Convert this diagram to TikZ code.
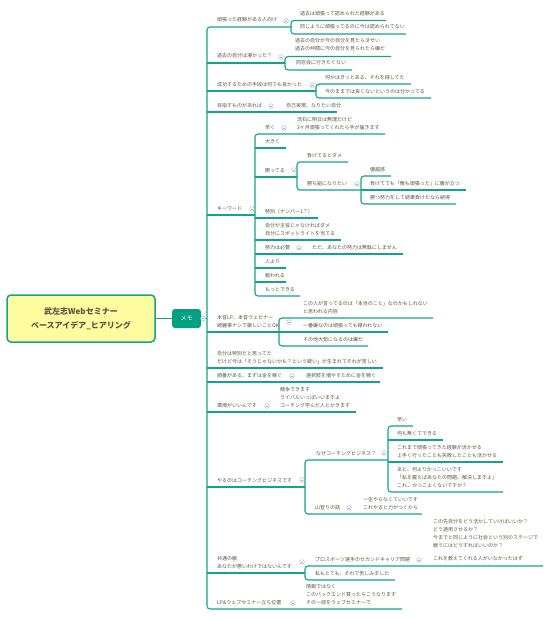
\documentclass[tikz,border=0pt]{standalone}
\usepackage{fontspec}
\setmainfont{Noto Sans CJK JP}
\definecolor{ln}{RGB}{20,163,133}
\definecolor{txt}{RGB}{88,86,62}
\definecolor{rootfill}{RGB}{255,252,160}
\definecolor{memofill}{RGB}{0,160,128}
\definecolor{iconc}{RGB}{160,178,210}
\begin{document}
\begin{tikzpicture}[x=1pt,y=-1pt,
  t/.style={anchor=base west, inner sep=0pt, font=\fontsize{5}{8}\selectfont, text=txt, align=left},
  br/.style={draw=ln, line width=1.1pt, rounded corners=3pt},
  colicon/.pic={\draw[iconc, line width=0.4pt, fill=white] (0,0) circle (2.3);
                \draw[iconc, line width=0.5pt] (-1.2,0) -- (1.2,0);}]
\useasboundingbox (0,0) rectangle (552,618);

% root and memo
\node[draw=ln, line width=1.5pt, fill=rootfill, rounded corners=4pt, minimum width=148pt, minimum height=47pt,
      align=center, font=\fontsize{8}{14}\selectfont\bfseries, text=txt] (root) at (81,318.5)
      {武左志Webセミナー\\ベースアイデア\_ヒアリング};
\node[fill=memofill, rounded corners=3pt, minimum width=29pt, minimum height=19pt, inner sep=0pt,
      text=white, font=\fontsize{6}{6}\selectfont] (memo) at (186.5,318.5) {メモ};
\coordinate (trk) at (207,318.5);
\draw[br] (root.east) -- (memo.west);
\draw[br] (memo.east) -- (trk);

% trunk
\draw[br] (291,27) -- (207,27) -- (207,609) -- (402,609);

% topic 1
\draw[br] (386,20.5) -- (291,20.5) -- (291,34) -- (406,34);
% topic 2
\draw[br] (207,63) -- (285,63);
\draw[br] (391,56.5) -- (285,56.5) -- (285,70) -- (352,70);
% topic 3
\draw[br] (207,91) -- (316,91);
\draw[br] (411,84) -- (316,84) -- (316,98) -- (431,98);
% topic 4
\draw[br] (207,112) -- (337,112);
% topic 5 keyword
\draw[br] (207,215) -- (255,215);
\draw[br] (385,134) -- (255,134) -- (255,296) -- (300,296);
\draw[br] (255,148) -- (286,148);
\draw[br] (255,177) -- (297,177);
\draw[br] (255,218) -- (318,218);
\draw[br] (255,240) -- (341,240);
\draw[br] (255,254) -- (403,254);
\draw[br] (255,268) -- (286,268);
\draw[br] (255,282) -- (286,282);
\draw[br] (348,162) -- (297,162) -- (297,190) -- (361,190);
\draw[br] (391,176) -- (361,176) -- (361,204) -- (456,204);
\draw[br] (361,190) -- (466,190);
% topic 6
\draw[br] (207,332) -- (279,332);
\draw[br] (433,318) -- (279,318) -- (279,346) -- (368,346);
\draw[br] (279,332) -- (388,332);
% topic 7-9
\draw[br] (207,368) -- (383,368);
\draw[br] (207,382) -- (380,382);
\draw[br] (207,412) -- (356,412);
% topic 10
\draw[br] (207,487) -- (305,487);
\draw[br] (388,460) -- (305,460) -- (305,514) -- (422,514);
\draw[br] (413,426) -- (388,426) -- (388,492) -- (503,492);
\draw[br] (388,440) -- (443,440);
\draw[br] (388,462) -- (503,462);
% topic 11
\draw[br] (207,573) -- (305,573);
\draw[br] (543,566) -- (305,566) -- (305,580) -- (395,580);

% texts (base = baseline of the last line)
\node[t] (n1) at (217,22) {頑張った経験がある人向け};
\node[t] (n1a) at (300,15.5) {過去は頑張って認められた経験がある};
\node[t] (n1b) at (300,29) {同じように頑張ってるのに今は認められてない};
\node[t] (n2) at (217,58) {過去の自分は凄かった？};
\node[t] (n2a) at (295,51) {過去の自分が今の自分を見たらダサい\\過去の仲間に今の自分を見られたら嫌だ};
\node[t] (n2b) at (296,65) {同窓会に行きたくない};
\node[t] (n3) at (217,86) {成功するための手段は何でも良かった};
\node[t] (n3a) at (325,79) {何かはきっとある、それを探してた};
\node[t] (n3b) at (325,93) {今のままでは良くないというのは分かってる};
\node[t] (n4) at (217,107) {目指すものがあれば};
\node[t] (n4a) at (286,107) {自己実現、なりたい自分};
\node[t] (n5) at (217,210) {キーワード};
\node[t] (k1) at (265,129) {早く};
\node[t] (k1a) at (297,129) {流石に明日は無理だけど\\3ヶ月頑張ってくれたら手が届きます};
\node[t] (k2) at (265,143) {大きく};
\node[t] (k3) at (265,172) {勝ってる};
\node[t] (k3a) at (307,157) {負けてるとダメ};
\node[t] (k3b) at (307,185) {勝ち組になりたい};
\node[t] (k3b1) at (370,171) {優越感};
\node[t] (k3b2) at (370,185) {負けてても「俺も頑張った」に腹が立つ};
\node[t] (k3b3) at (370,199) {勝つ努力をして結果負けたなら納得};
\node[t] (k4) at (265,213) {特別（ナンバー1？）};
\node[t] (k5) at (265,235) {自分が主役じゃなければダメ\\自分にスポットライトを当てる};
\node[t] (k6) at (265,249) {努力は必要};
\node[t] (k6a) at (312,249) {ただ、あなたの努力は無駄にしません};
\node[t] (k7) at (265,263) {人より};
\node[t] (k8) at (265,277) {報われる};
\node[t] (k9) at (265,291) {もっとできる};
\node[t] (n6) at (217,327) {本音LP、本音ウェビナー\\綺麗事ナシで厳しいことOK};
\node[t] (n6a) at (303,313) {この人が言ってるのは「本当のこと」なのかもしれない\\と思われる内容};
\node[t] (n6b) at (303,327) {一番嫌なのは頑張っても報われない};
\node[t] (n6c) at (303,341) {その他大勢になるのは嫌だ};
\node[t] (n7) at (217,363) {自分は特別だと思ってた\\だけど今は「そうじゃないかも？という疑い」が生まれてそれが苦しい};
\node[t] (n8) at (217,377) {順番がある、まずは金を稼ぐ};
\node[t] (n8a) at (306,377) {選択肢を増やすために金を稼ぐ};
\node[t] (n9) at (217,407) {環境がいいんです};
\node[t] (n9a) at (280,407) {競争できます\\ライバルいっぱいいますよ\\コーチング学んだ人とかきます};
\node[t] (n10) at (217,482) {やるのはコーチングビジネスです};
\node[t] (m1) at (316,455) {なぜコーチングビジネス？};
\node[t] (m1a) at (397,421) {早い};
\node[t] (m1b) at (397,435) {何も無くてできる};
\node[t] (m1c) at (397,457) {これまで頑張ってきた経験が活かせる\\上手く行ったことも失敗したことも活かせる};
\node[t] (m1d) at (397,487) {あと、何よりかっこいいです\\「私を雇えばあなたの問題、解決しますよ」\\これ、かっこよくないですか？};
\node[t] (m2) at (315,509) {山登りの話};
\node[t] (m2a) at (363,509) {一生やらなくていいです\\これやると力がつくから};
\node[t] (n11) at (217,568) {共通の敵\\あなたが悪いわけではないんです};
\node[t] (p1) at (315,561) {プロスポーツ選手のセカンドキャリア問題};
\node[t] (p1a) at (433,560) {この先自分をどう活かしていけばいいか？\\どう適用させるか？\\今までと同じように社会という別のステージで\\戦うにはどうすればいいのか？\\[5pt]これを教えてくれる人がいなかったはず};
\node[t] (p2) at (315,575) {私もとても、それで苦しみました};
\node[t] (n12) at (217,604) {LP\&ウェブセミナー立ち位置};
\node[t] (n12a) at (306,604) {情報ではなく\\このバックエンド買ったらこうなります\\その一部をウェブセミナーで};

% collapse icons
\foreach \x/\y in {286/21, 281/57, 312/85, 271/106, 284/128, 294/170, 357/184, 252/209, 299/248,
                   289/322, 203/318.5, 292/376, 267/406, 384/453, 302/480, 349/508, 419/560, 302/562, 293/603}
  \pic at (\x,\y) {colicon};
\end{tikzpicture}
\end{document}
